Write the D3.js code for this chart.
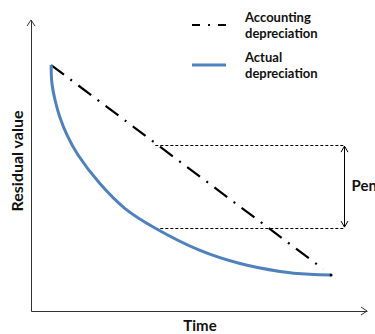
<!DOCTYPE html>
<html>
<head>
<meta charset="utf-8">
<script src="https://cdn.jsdelivr.net/npm/d3@7"></script>
<style>
  body { margin: 0; background: #fff; overflow: hidden; }
  svg text { font-family: Lato, "Open Sans", sans-serif; font-weight: bold; fill: #111; }
</style>
</head>
<body>
<svg width="375" height="334"></svg>
<script>
// data (axis units 0..100)
var actualTime  = [6, 6.05, 6.25, 7.15, 8.65, 10.7, 14, 20.5, 28, 36.9, 50.3, 62.2, 74.1, 83, 89.3];
var actualValue = [84.5, 81.2, 78, 72.5, 66.4, 60.5, 53.6, 43.8, 35.2, 28.5, 20.8, 16.3, 13.6, 12.6, 12.4];
var accountingTime  = [6, 87];
var accountingValue = [84.5, 14.4];
var penaltyTime  = [37, 93.5];
var penaltyLevels = [57, 28.5];
var legendLabels = [["Accounting", "depreciation"], ["Actual", "depreciation"]];

function main() {
    var svg = d3.select("svg");

    var xScale = d3.scaleLinear().domain([0, 100]).range([31, 367]),
        yScale = d3.scaleLinear().domain([0, 100]).range([311, 20]);

    var axisColor = "#333";

    // axes without ticks, just the line
    svg.append("g").attr("transform", "translate(0," + yScale(0) + ")")
        .call(d3.axisBottom(xScale).ticks(0).tickSizeOuter(0));
    svg.append("g").attr("transform", "translate(" + xScale(0) + ",0)")
        .call(d3.axisLeft(yScale).ticks(0).tickSizeOuter(0));
    svg.selectAll(".domain").attr("stroke", axisColor).attr("stroke-width", 1);

    // arrow heads on the axes
    svg.append("path")
        .attr("d", "M" + (xScale(100) - 6) + "," + (yScale(0) - 4) + "L" + xScale(100) + "," + yScale(0) + "L" + (xScale(100) - 6) + "," + (yScale(0) + 4))
        .attr("fill", "none").attr("stroke", axisColor);
    svg.append("path")
        .attr("d", "M" + (xScale(0) - 4) + "," + (yScale(100) + 6) + "L" + xScale(0) + "," + yScale(100) + "L" + (xScale(0) + 4) + "," + (yScale(100) + 6))
        .attr("fill", "none").attr("stroke", axisColor);

    // axis titles
    svg.append("text").attr("text-anchor", "middle")
        .attr("x", 200).attr("y", 331).style("font-size", "15px").text("Time");
    svg.append("text").attr("text-anchor", "middle")
        .attr("transform", "translate(23,161)rotate(-90)")
        .style("font-size", "16px").text("Residual value");

    // penalty guide lines
    penaltyLevels.forEach(function(v) {
        var y = Math.round(yScale(v)) + 0.5;
        svg.append("line")
            .attr("x1", xScale(penaltyTime[0])).attr("x2", xScale(penaltyTime[1]))
            .attr("y1", y).attr("y2", y)
            .attr("stroke", "#000").attr("stroke-width", 1).attr("stroke-dasharray", "3,2");
    });

    var ax = Math.round(xScale(penaltyTime[1]) - 1) + 0.5,
        ay1 = yScale(penaltyLevels[0]) + 1,
        ay2 = yScale(penaltyLevels[1]) - 1;
    svg.append("line").attr("x1", ax).attr("x2", ax).attr("y1", ay1).attr("y2", ay2)
        .attr("stroke", "#000").attr("stroke-width", 1);
    svg.append("path")
        .attr("d", "M" + (ax - 3.5) + "," + (ay1 + 6) + "L" + ax + "," + ay1 + "L" + (ax + 3.5) + "," + (ay1 + 6) +
                   "M" + (ax - 3.5) + "," + (ay2 - 6) + "L" + ax + "," + ay2 + "L" + (ax + 3.5) + "," + (ay2 - 6))
        .attr("fill", "none").attr("stroke", "#000").attr("stroke-width", 1);
    svg.append("text").attr("x", ax + 7).attr("y", 191)
        .style("font-size", "15px").text("Penalty");

    // accounting depreciation (dash-dot)
    var line = d3.line().x(function(d){ return xScale(d[0]); }).y(function(d){ return yScale(d[1]); });
    svg.append("path")
        .datum(d3.zip(accountingTime, accountingValue))
        .attr("d", line)
        .attr("fill", "none").attr("stroke", "#000").attr("stroke-width", 2.2)
        .attr("stroke-dasharray", "16,8,2,8");

    // actual depreciation
    var curve = d3.line().curve(d3.curveCatmullRom.alpha(0.5))
        .x(function(d){ return xScale(d[0]); }).y(function(d){ return yScale(d[1]); });
    svg.append("path")
        .datum(d3.zip(actualTime, actualValue))
        .attr("d", curve)
        .attr("fill", "none").attr("stroke", "#4f81bd").attr("stroke-width", 3);

    svg.append("circle")
        .attr("cx", xScale(actualTime[actualTime.length - 1]))
        .attr("cy", yScale(actualValue[actualValue.length - 1]))
        .attr("r", 1.5).attr("fill", "#000");

    // legend
    var lg = svg.append("g");
    lg.append("line").attr("x1", 192).attr("x2", 226).attr("y1", 25).attr("y2", 25)
        .attr("stroke", "#000").attr("stroke-width", 2.2).attr("stroke-dasharray", "8,8,2,8");
    lg.append("line").attr("x1", 192).attr("x2", 226).attr("y1", 65).attr("y2", 65)
        .attr("stroke", "#4f81bd").attr("stroke-width", 3);
    legendLabels.forEach(function(lines, i) {
        lines.forEach(function(t, j) {
            lg.append("text").attr("x", 245).attr("y", 22 + i * 40 + j * 15.5)
                .style("font-size", "13px").text(t);
        });
    });
}
main();
</script>
</body>
</html>
